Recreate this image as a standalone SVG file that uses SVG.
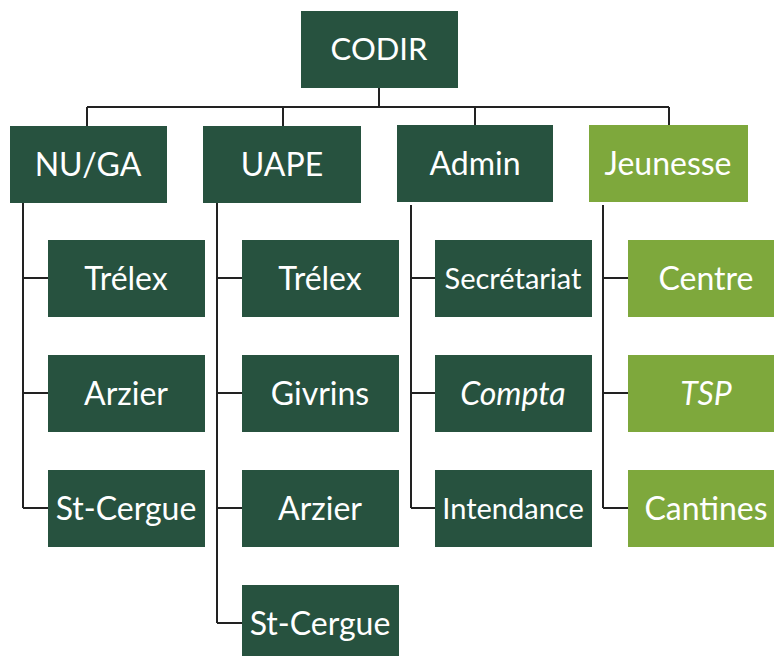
<svg xmlns="http://www.w3.org/2000/svg" width="774" height="656" viewBox="0 0 774 656">
<style>
.d{fill:#27523f}
.l{fill:#7ea83c}
text{font-family:Lato,"Open Sans",sans-serif;fill:#fff;text-anchor:middle;dominant-baseline:central;font-size:32px}
.t{font-size:31px}
.s{font-size:29px}
.i{font-style:italic}
.c{fill:none;stroke:#222;stroke-width:2}
</style>
<rect width="774" height="656" fill="#fff"/>
<g id="connectors" class="c">
<path d="M379 88V107M87 107H669M87 107V126M283 107V126M475 107V126M669 107V126"/>
<path d="M23 203V508M23 278H48M23 393H48M23 508H48"/>
<path d="M217 203V623M217 278H242M217 393H242M217 508H242M217 623H242"/>
<path d="M411 205V508M411 278H435M411 393H435M411 508H435"/>
<path d="M603 205V508M603 278H628M603 393H628M603 508H628"/>
</g>
<g id="codir"><rect class="d" x="301" y="11" width="157" height="77"/><text class="t" x="379" y="48">CODIR</text></g>
<g id="nuga"><rect class="d" x="10" y="126" width="157" height="77"/><text x="88" y="163">NU/GA</text></g>
<g id="uape"><rect class="d" x="203" y="126" width="158" height="77"/><text x="282" y="163">UAPE</text></g>
<g id="admin"><rect class="d" x="397" y="125" width="156" height="77"/><text x="475" y="162">Admin</text></g>
<g id="jeunesse"><rect class="l" x="589" y="125" width="159" height="77"/><text x="668" y="162">Jeunesse</text></g>
<g id="nuga-trelex"><rect class="d" x="48" y="240" width="157" height="77"/><text x="126" y="277">Trélex</text></g>
<g id="nuga-arzier"><rect class="d" x="48" y="355" width="157" height="77"/><text x="126" y="392">Arzier</text></g>
<g id="nuga-stcergue"><rect class="d" x="48" y="470" width="157" height="77"/><text x="126" y="507">St-Cergue</text></g>
<g id="uape-trelex"><rect class="d" x="242" y="240" width="157" height="77"/><text x="320" y="277">Trélex</text></g>
<g id="uape-givrins"><rect class="d" x="242" y="355" width="157" height="77"/><text x="320" y="392">Givrins</text></g>
<g id="uape-arzier"><rect class="d" x="242" y="470" width="157" height="77"/><text x="320" y="507">Arzier</text></g>
<g id="uape-stcergue"><rect class="d" x="242" y="585" width="157" height="77"/><text x="320" y="622">St-Cergue</text></g>
<g id="secretariat"><rect class="d" x="435" y="240" width="157" height="77"/><text class="s" x="513" y="277">Secrétariat</text></g>
<g id="compta"><rect class="d" x="435" y="355" width="157" height="77"/><text class="i" x="513" y="392">Compta</text></g>
<g id="intendance"><rect class="d" x="435" y="470" width="157" height="77"/><text class="s" x="513" y="507">Intendance</text></g>
<g id="centre"><rect class="l" x="628" y="240" width="157" height="77"/><text x="706" y="277">Centre</text></g>
<g id="tsp"><rect class="l" x="628" y="355" width="157" height="77"/><text class="i" x="706" y="392">TSP</text></g>
<g id="cantines"><rect class="l" x="628" y="470" width="157" height="77"/><text x="706" y="507">Cantines</text></g>
</svg>
